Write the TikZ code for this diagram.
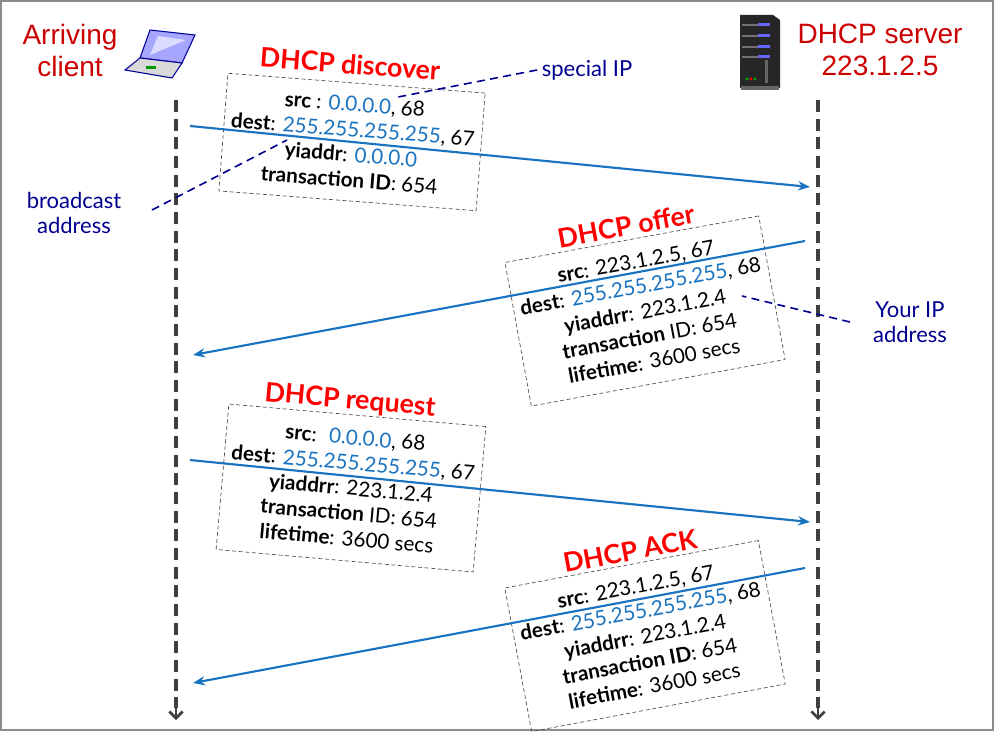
\documentclass[tikz,border=0pt]{standalone}
\usepackage{fontspec}
\setmainfont{Lato}
\newfontfamily\arialf{Liberation Sans}
\usetikzlibrary{arrows.meta}
\definecolor{ipblue}{HTML}{1A73C0}
\definecolor{navy}{HTML}{000090}
\definecolor{lblred}{HTML}{CC0000}
\newcommand{\bb}[1]{\textbf{#1}}
\newcommand{\ip}[1]{\textcolor{ipblue}{#1}}
\begin{document}
\begin{tikzpicture}[x=0.75pt,y=-0.75pt,
  box/.style={draw=black!70,densely dashed,line width=0.5pt,minimum width=258*0.75pt,align=center,font=\fontsize{15.5}{19}\selectfont,inner sep=1pt},
  ttl/.style={text=red,font=\fontsize{20}{22}\selectfont\bfseries},
  msg/.style={draw=ipblue,line width=1.6pt,-{Stealth[length=9pt,width=7pt]}},
  life/.style={draw=black!75,line width=2.6pt,dash pattern=on 9pt off 5pt},
  ann/.style={draw=navy,line width=1.2pt,dash pattern=on 6pt off 4pt},
  lbl/.style={text=lblred,font=\arialf\fontsize{21}{24}\selectfont,align=center},
  nlbl/.style={text=navy,font=\fontsize{16.5}{19}\selectfont,align=center}]
\useasboundingbox (0,0) rectangle (994,731);
\draw[black!45,line width=1.5pt] (1,1) rectangle (993,730);
% labels
\node[lbl] (cl) at (70,50) {Arriving\\client};
\node[lbl] (sv) at (880,50) {DHCP server\\223.1.2.5};
% laptop
\begin{scope}
\fill[blue!35!white,draw=blue!60!black,line width=0.8pt] (150,30) -- (195,35) -- (182,63) -- (140,58) -- cycle;
\fill[white,opacity=0.6] (158,36) -- (186,40) -- (150,55) -- cycle;
\fill[gray!30,draw=blue!60!black,line width=0.8pt] (140,58) -- (182,63) -- (172,78) -- (125,70) -- cycle;
\fill[green!60!black] (146,66) rectangle (156,69);
\end{scope}
% server
\begin{scope}
\fill[black!85] (740,15) -- (773,15) -- (780,20) -- (780,88) -- (740,88) -- cycle;
\fill[black!60] (741,86) rectangle (779,90);
\foreach \y in {24,35,46,56}{\fill[black!55] (742,\y) rectangle (770,\y+2); \fill[blue!60!white] (758,\y-1) rectangle (770,\y+2);}
\fill[black!60] (765,60) rectangle (768,83);
\fill[green!70!black] (747,79) circle (1.6); \fill[red] (751,79) circle (1.6); \fill[green!70!black] (755,79) circle (1.6);
\end{scope}
% lifelines
\coordinate (c0) at (176,100); \coordinate (c1) at (176,720);
\coordinate (s0) at (818,100); \coordinate (s1) at (818,720);
\draw[life] (c0) -- (176,708);
\draw[life] (s0) -- (818,708);
\draw[black!75,line width=2pt,-{Straight Barb[length=5pt,width=10pt]}] (176,700) -- (c1);
\draw[black!75,line width=2pt,-{Straight Barb[length=5pt,width=10pt]}] (818,700) -- (s1);
% boxes
\node[box,rotate=-4.4,minimum height=118*0.75pt] (b1) at (352,142) {\bb{src} : \ip{0.0.0.0}, 68\\\bb{dest}: \ip{255.255.255.255}, 67\\\bb{yiaddr}: \ip{0.0.0.0}\\\bb{transaction ID}: 654};
\node[ttl,rotate=-4.4] (t1) at (350,64) {DHCP discover};
\node[box,rotate=10.4,minimum height=146*0.75pt] (b2) at (645,311) {\bb{src}: 223.1.2.5, 67\\\bb{dest}: \ip{255.255.255.255}, 68\\\bb{yiaddrr}: 223.1.2.4\\\bb{transaction} ID: 654\\\bb{lifetime}: 3600 secs};
\node[ttl,rotate=10.4] (t2) at (626,226) {DHCP offer};
\node[box,rotate=-5,minimum height=146*0.75pt] (b3) at (351,488) {\bb{src}: \ \ip{0.0.0.0}, 68\\\bb{dest}: \ip{255.255.255.255}, 67\\\bb{yiaddrr}: 223.1.2.4\\\bb{transaction} ID: 654\\\bb{lifetime}: 3600 secs};
\node[ttl,rotate=-5] (t3) at (350,401) {DHCP request};
\node[box,rotate=10.6,minimum height=146*0.75pt] (b4) at (645,636) {\bb{src}: 223.1.2.5, 67\\\bb{dest}: \ip{255.255.255.255}, 68\\\bb{yiaddrr}: 223.1.2.4\\\bb{transaction ID}: 654\\\bb{lifetime}: 3600 secs};
\node[ttl,rotate=10.6] (t4) at (630,551) {DHCP ACK};
% messages
\coordinate (m1a) at (190,126); \coordinate (m1b) at (810,187);
\coordinate (m2a) at (805,241); \coordinate (m2b) at (193,355);
\coordinate (m3a) at (190,460); \coordinate (m3b) at (810,522);
\coordinate (m4a) at (805,568); \coordinate (m4b) at (193,683);
\draw[msg] (m1a) -- (m1b);
\draw[msg] (m2a) -- (m2b);
\draw[msg] (m3a) -- (m3b);
\draw[msg] (m4a) -- (m4b);
% annotations
\node[nlbl] (sp) at (587,70) {special IP};
\node[nlbl] (ba) at (74,213) {broadcast\\address};
\node[nlbl] (yi) at (910,322) {Your IP\\address};
\coordinate (sp1) at (398,97); \coordinate (ba1) at (287,140); \coordinate (yi1) at (742,296);
\draw[ann] (sp.west) -- (sp1);
\draw[ann] (152,210) -- (ba1);
\draw[ann] (850,322) -- (yi1);
\end{tikzpicture}
\end{document}
